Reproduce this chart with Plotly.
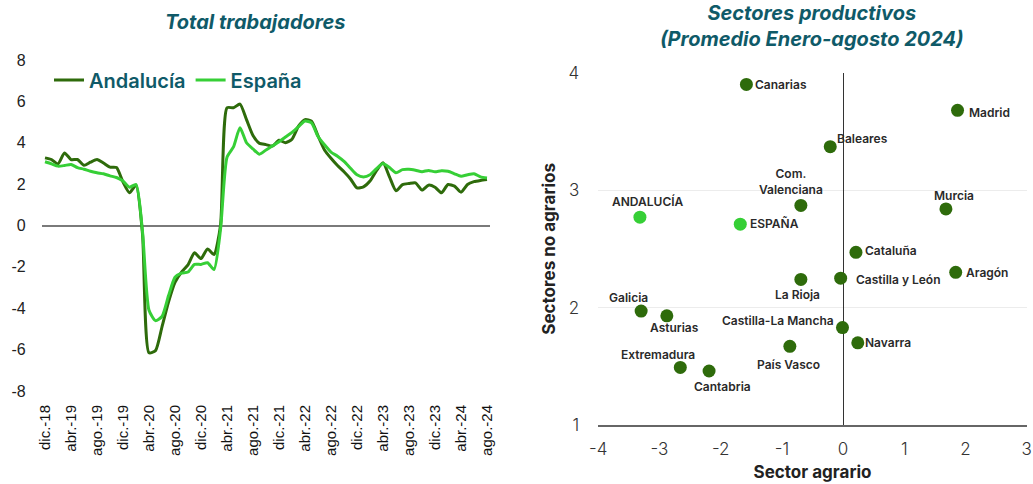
import plotly.graph_objects as go

# ---------------- Data: left chart (monthly, dic-18 .. ago-24) ----------------
month_abbr = ["ene.", "feb.", "mar.", "abr.", "may.", "jun.", "jul.", "ago.", "sep.", "oct.", "nov.", "dic."]
months = ["dic.-18"] + [f"{m}-{y}" for y in range(19, 25) for m in month_abbr]
months = months[: months.index("ago.-24") + 1]
tick_labels = months[::4]

andalucia = [3.27, 3.19, 2.98, 3.51, 3.19, 3.19, 2.91, 3.06, 3.19, 3.02, 2.82, 2.80,
             2.10, 1.58, 1.95, -0.40, -6.15, -6.05, -4.90, -3.70, -2.75, -2.25, -1.90, -1.32,
             -1.60, -1.13, -1.40, 0.00, 5.69, 5.69, 5.87, 5.12, 4.35, 3.97, 3.91, 3.84,
             4.12, 4.00, 4.17, 4.80, 5.12, 5.04, 4.33, 3.65, 3.25, 2.90, 2.60, 2.25,
             1.82, 1.87, 2.15, 2.65, 3.03, 2.35, 1.68, 1.98, 2.03, 2.06, 1.71, 1.95,
             1.85, 1.58, 1.98, 1.90, 1.61, 1.98, 2.12, 2.18, 2.22]
espana = [3.08, 2.98, 2.87, 2.90, 2.95, 2.80, 2.72, 2.62, 2.55, 2.50, 2.40, 2.32,
          2.15, 1.85, 1.98, -0.30, -4.10, -4.60, -4.40, -3.40, -2.50, -2.30, -2.25, -1.88,
          -1.88, -1.80, -2.13, -0.20, 3.30, 3.80, 4.72, 4.00, 3.70, 3.45, 3.65, 3.85,
          4.05, 4.28, 4.50, 4.78, 5.05, 4.96, 4.30, 3.90, 3.55, 3.35, 3.10, 2.77,
          2.45, 2.35, 2.45, 2.75, 3.00, 2.80, 2.55, 2.70, 2.72, 2.67, 2.60, 2.66,
          2.60, 2.65, 2.62, 2.50, 2.38, 2.45, 2.50, 2.35, 2.30]
left_y_ticks = [-8, -6, -4, -2, 0, 2, 4, 6, 8]

# ---------------- Data: right chart (scatter) ----------------
regions = ["Canarias", "Madrid", "Baleares", "Com.<br>Valenciana", "Murcia", "ANDALUCÍA", "ESPAÑA",
           "Cataluña", "Aragón", "Castilla y León", "La Rioja", "Galicia", "Asturias",
           "Castilla-La Mancha", "Navarra", "País Vasco", "Extremadura", "Cantabria"]
sector_agrario = [-1.58, 1.87, -0.21, -0.69, 1.68, -3.32, -1.68, 0.21, 1.84, -0.04, -0.69,
                  -3.30, -2.88, -0.01, 0.24, -0.87, -2.66, -2.19]
sectores_no_agrarios = [3.90, 3.68, 3.37, 2.87, 2.84, 2.77, 2.71, 2.47, 2.30, 2.25, 2.24,
                        1.97, 1.93, 1.83, 1.70, 1.67, 1.49, 1.46]
right_x_ticks = [-4, -3, -2, -1, 0, 1, 2, 3]
right_y_ticks = [1, 2, 3, 4]

# ---------------- Styles ----------------
DARK = "#2e6b0b"
LIGHT = "#36cf36"
TEAL = "#0f5a68"
W, H = 1033, 484


def fx(px):
    return px / W


def fy(py):
    return 1 - py / H


# label placement (xanchor, xshift, yshift) per region
label_pos = {
    "Canarias": ("left", 7, 0),
    "Madrid": ("left", 9, -2),
    "Baleares": ("left", 5, 8),
    "Com.<br>Valenciana": ("center", -10, 24),
    "Murcia": ("center", 8, 13),
    "ANDALUCÍA": ("center", 8, 16),
    "ESPAÑA": ("left", 8, 1),
    "Cataluña": ("left", 7, 2),
    "Aragón": ("left", 8, 0),
    "Castilla y León": ("left", 13, -1),
    "La Rioja": ("center", -3, -15),
    "Galicia": ("center", -13, 14),
    "Asturias": ("center", 8, -12),
    "Castilla-La Mancha": ("right", -6, 7),
    "Navarra": ("left", 5, 0),
    "País Vasco": ("center", -1, -18),
    "Extremadura": ("center", -22, 13),
    "Cantabria": ("center", 13, -16),
}

fig = go.Figure()

fig.add_trace(go.Scatter(x=months, y=andalucia, name="Andalucía", mode="lines",
                         line=dict(color=DARK, width=3, shape="spline", smoothing=0.6),
                         xaxis="x", yaxis="y"))
fig.add_trace(go.Scatter(x=months, y=espana, name="España", mode="lines",
                         line=dict(color=LIGHT, width=3, shape="spline", smoothing=0.6),
                         xaxis="x", yaxis="y"))

colors = [LIGHT if r in ("ANDALUCÍA", "ESPAÑA") else DARK for r in regions]
fig.add_trace(go.Scatter(x=sector_agrario, y=sectores_no_agrarios, mode="markers",
                         marker=dict(size=13, color=colors), showlegend=False,
                         xaxis="x2", yaxis="y2"))

annotations = []
for r, xv, yv in zip(regions, sector_agrario, sectores_no_agrarios):
    xa, xs, ys = label_pos[r]
    annotations.append(dict(x=xv, y=yv, xref="x2", yref="y2", text=r, showarrow=False,
                            xanchor=xa, yanchor="middle", xshift=xs, yshift=ys,
                            font=dict(family="Inter", size=12, color="#2a2a2a", weight=600),
                            align="center"))

# titles
annotations.append(dict(x=fx(255), y=fy(22), xref="paper", yref="paper",
                        text="<b><i>Total trabajadores</i></b>", showarrow=False,
                        xanchor="center", yanchor="middle",
                        font=dict(family="Inter", size=20, color=TEAL)))
annotations.append(dict(x=fx(812), y=fy(26), xref="paper", yref="paper",
                        text="<b><i>Sectores productivos<br>(Promedio Enero-agosto 2024)</i></b>",
                        showarrow=False, xanchor="center", yanchor="middle",
                        font=dict(family="Inter", size=20, color=TEAL)))

fig.update_layout(
    template="none",
    width=W, height=H,
    margin=dict(l=0, r=0, t=0, b=0, pad=0),
    paper_bgcolor="white", plot_bgcolor="white",
    showlegend=True,
    legend=dict(orientation="h", x=fx(49), y=fy(80), xanchor="left", yanchor="middle",
                font=dict(family="Inter", size=20, color=TEAL, weight=600),
                bgcolor="rgba(0,0,0,0)", itemwidth=30, tracegroupgap=0),
    annotations=annotations,
    xaxis=dict(domain=[fx(41.75), fx(490.25)], type="category", automargin=False,
               categoryorder="array", categoryarray=months,
               range=[-0.5, len(months) - 0.5],
               tickmode="array", tickvals=tick_labels, ticktext=tick_labels,
               tickangle=-90, showgrid=False, showline=False, zeroline=False, ticks="",
               tickfont=dict(family="Liberation Sans", size=15, color="#111"),
               ticklabelstandoff=10),
    yaxis=dict(domain=[fy(391), fy(60)], range=[-8, 8], automargin=False,
               tickmode="array", tickvals=left_y_ticks,
               ticktext=[str(v) for v in left_y_ticks],
               showgrid=False, showline=False, ticks="",
               zeroline=True, zerolinecolor="#7a7a7a", zerolinewidth=1.5,
               tickfont=dict(family="Liberation Sans", size=16, color="#222"),
               ticklabelstandoff=15),
    xaxis2=dict(domain=[fx(598.3), fx(1026.7)], range=[-4, 3], automargin=False,
                tickmode="array", tickvals=right_x_ticks,
                ticktext=[str(v) for v in right_x_ticks],
                showgrid=False, ticks="",
                showline=True, linecolor="#666", linewidth=1.5,
                zeroline=True, zerolinecolor="#333", zerolinewidth=1,
                tickfont=dict(family="Inter", size=17, color="#333", weight=300),
                ticklabelstandoff=8,
                title=dict(text="Sector agrario", standoff=8,
                           font=dict(family="Inter", size=17, color="#222", weight=700)),
                anchor="y2"),
    yaxis2=dict(domain=[fy(425), fy(72.7)], range=[1, 4], automargin=False,
                tickmode="array", tickvals=right_y_ticks,
                ticktext=[str(v) for v in right_y_ticks],
                showgrid=True, gridcolor="#ececec", gridwidth=1,
                showline=False, ticks="", zeroline=False,
                tickfont=dict(family="Inter", size=17, color="#333", weight=300),
                ticklabelstandoff=18,
                title=dict(text="Sectores no agrarios", standoff=8,
                           font=dict(family="Inter", size=17, color="#222", weight=700)),
                anchor="x2"),
)

# remove the browser's default page margin so the figure fills the window exactly
fig.write_html("out.html", config={"displayModeBar": False},
               post_script="document.body.style.margin='0';"
                           "document.body.style.overflow='hidden';")
